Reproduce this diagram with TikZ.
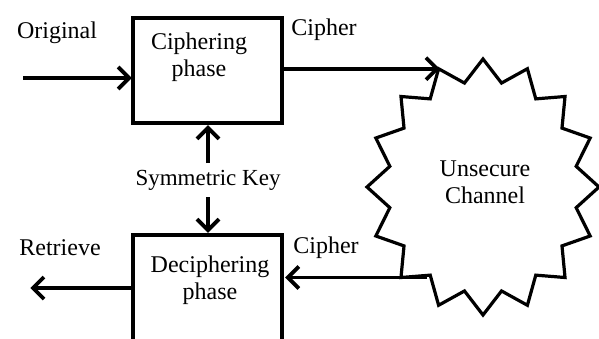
\documentclass[tikz,border=0pt]{standalone}
\usepackage{fontspec}
\newfontfamily\diagfont{Liberation Serif}
\usetikzlibrary{calc}
\newcommand\myheadR[1]{\draw[headline] ($(#1)+(-11,-11)$) -- (#1) -- ($(#1)+(-11,11)$);}
\newcommand\myheadL[1]{\draw[headline] ($(#1)+(11,-11)$) -- (#1) -- ($(#1)+(11,11)$);}
\newcommand\myheadU[1]{\draw[headline] ($(#1)+(-11,11)$) -- (#1) -- ($(#1)+(11,11)$);}
\newcommand\myheadD[1]{\draw[headline] ($(#1)+(-11,-11)$) -- (#1) -- ($(#1)+(11,-11)$);}
\begin{document}
\begin{tikzpicture}[x=1pt,y=-1pt,
  lbl/.style={inner sep=0pt, align=center, font=\diagfont\fontsize{24}{27}\selectfont},
  boxnode/.style={draw, line width=3.8pt, inner sep=0pt, minimum width=149pt},
  conn/.style={line width=3.8pt},
  headline/.style={line width=3.8pt, line join=miter, line cap=butt},
  starline/.style={line width=3.2pt, line join=miter},
]
\useasboundingbox (0,0) rectangle (599,338);
\clip (0,0) rectangle (599,338);
% boxes
\node[boxnode, minimum height=105pt] (enc) at (207.5,70.5) {};
\node[boxnode, minimum height=125pt] (dec) at (207.5,297.5) {};
\node[lbl] (enctext) at (199,57) {Ciphering\\phase};
\node[lbl] (dectext) at (210,280) {Deciphering\\phase};
% star
\draw[starline, shift={(483,187)}] (90:116 and 128)
  \foreach \k in {0,...,15} { -- ({90+\k*22.5}:116 and 128) -- ({101.25+\k*22.5}:95 and 106) } -- cycle;
\node[lbl] (chan) at (485,182) {Unsecure\\Channel};
% labels
\node[lbl] (orig) at (57,33) {Original};
\node[lbl] (c1) at (324,30) {Cipher};
\node[lbl] (ret) at (60,248) {Retrieve};
\node[lbl] (c2) at (326,248) {Cipher};
\node[inner sep=0pt, outer sep=0pt, minimum height=34pt, font=\diagfont\fontsize{23}{25}\selectfont] (key) at (208,180) {Symmetric Key};
% connector ends
\coordinate (oin) at (23,78);
\coordinate (rout) at (33,288);
\coordinate (cin) at (437,68.7);
\coordinate (cout) at (427,277.5);
\coordinate (t1) at ($(enc.west |- oin)+(-2,0)$);
\coordinate (t3) at ($(dec.east |- cout)+(4,0)$);
\coordinate (t4) at (rout);
\coordinate (t5) at ($(key.north |- enc.south)+(0,3)$);
\coordinate (t6) at ($(key.south |- dec.north)+(0,-3)$);
% connectors
\draw[conn] (oin) -- (t1);
\draw[conn] (enc.east |- cin) -- (cin);
\draw[conn] (cout) -- (t3);
\draw[conn] (dec.west |- rout) -- (t4);
\draw[conn] (key.north) -- (t5);
\draw[conn] (key.south) -- (t6);
\myheadR{t1}
\myheadR{cin}
\myheadL{t3}
\myheadL{t4}
\myheadU{t5}
\myheadD{t6}
\end{tikzpicture}
\end{document}
